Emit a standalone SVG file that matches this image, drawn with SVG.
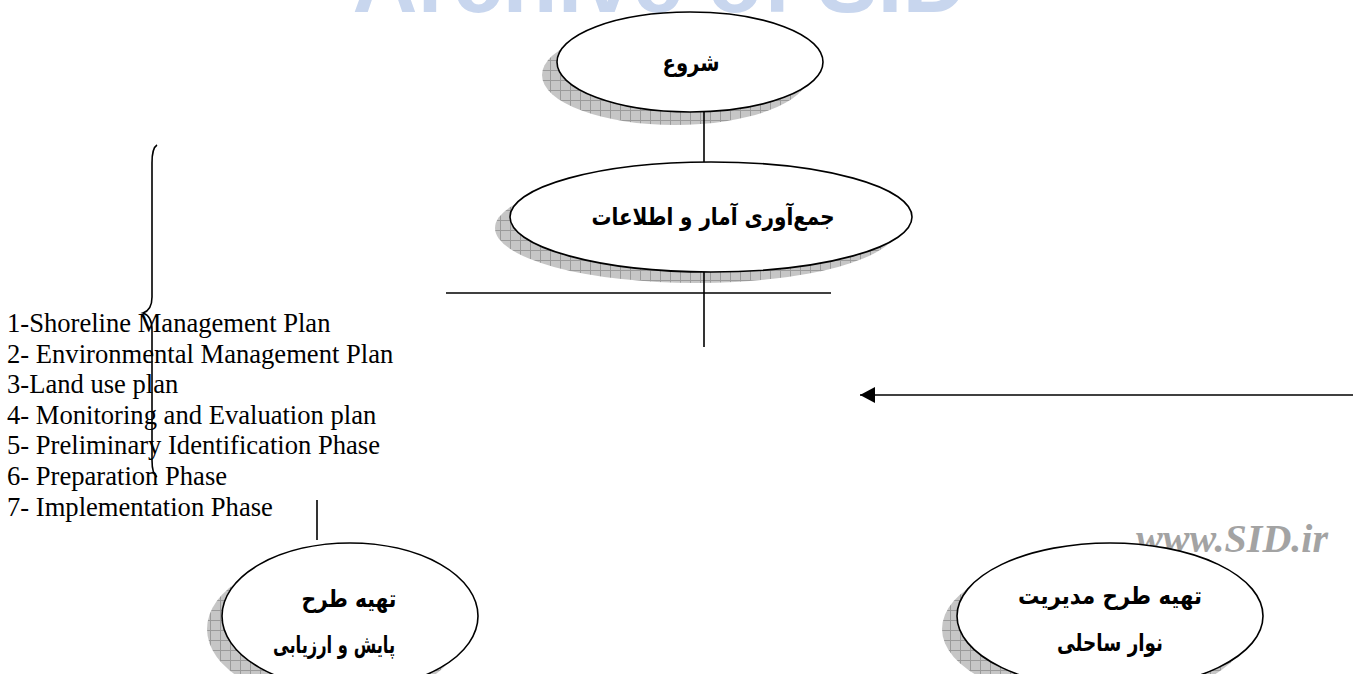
<svg xmlns="http://www.w3.org/2000/svg" width="1353" height="674" viewBox="0 0 1353 674">
<defs>
<pattern id="hatch" width="10" height="10" patternUnits="userSpaceOnUse">
<rect width="10" height="10" fill="#c6c6c6"/>
<path d="M0,0.5 H10 M0.5,0 V10" stroke="#9a9a9a" stroke-width="1" fill="none"/>
</pattern>
<marker id="arrow" markerWidth="15" markerHeight="16" refX="15" refY="8" orient="auto" markerUnits="userSpaceOnUse">
<path d="M0,0 L15,8 L0,16 Z" fill="#000"/>
</marker>
<style>
.shadow{fill:url(#hatch);stroke:none}
.node{fill:#fff;stroke:#000;stroke-width:1.6}
.fa{font-family:"DejaVu Sans",sans-serif;font-weight:bold;font-size:24px;fill:#000;text-anchor:middle}
.en{font-family:"Liberation Serif",serif;font-size:26.6px;fill:#000}
.ln{stroke:#000;stroke-width:1.6;fill:none}
</style>
</defs>
<rect width="1353" height="674" fill="#fff"/>
<text x="660" y="12" font-family="Liberation Sans, sans-serif" font-weight="bold" font-size="90" fill="#c8d6ee" text-anchor="middle">Archive of SID</text>
<text x="1328" y="552" font-family="Liberation Serif, serif" font-weight="bold" font-style="italic" font-size="40" fill="#a3a3a3" text-anchor="end">www.SID.ir</text>

<g id="node-start">
<ellipse class="shadow" cx="675" cy="75" rx="133" ry="50"/>
<ellipse class="node" cx="690" cy="62" rx="133" ry="50"/>
<text class="fa" x="691" y="71" textLength="57" lengthAdjust="spacingAndGlyphs">شروع</text>
</g>
<g id="node-collect">
<ellipse class="shadow" cx="696" cy="228" rx="201" ry="55"/>
<ellipse class="node" cx="711" cy="217" rx="201" ry="55"/>
<text class="fa" x="713" y="225" textLength="243" lengthAdjust="spacingAndGlyphs">جمع‌آوری آمار و اطلاعات</text>
</g>
<g id="node-monitor">
<ellipse class="shadow" cx="335" cy="629" rx="128" ry="73"/>
<ellipse class="node" cx="350" cy="616" rx="128" ry="73"/>
<text class="fa" x="349" y="607" textLength="95" lengthAdjust="spacingAndGlyphs">تهیه طرح</text>
<text class="fa" x="334" y="653" textLength="122" lengthAdjust="spacingAndGlyphs">پایش و ارزیابی</text>
</g>
<g id="node-shoreline">
<ellipse class="shadow" cx="1095" cy="629" rx="153" ry="73"/>
<ellipse class="node" cx="1110" cy="616" rx="153" ry="73"/>
<text class="fa" x="1110" y="604" textLength="184" lengthAdjust="spacingAndGlyphs">تهیه طرح مدیریت</text>
<text class="fa" x="1110" y="651" textLength="106" lengthAdjust="spacingAndGlyphs">نوار ساحلی</text>
</g>
<g id="list">
<text class="en" x="7" y="332">1-Shoreline Management Plan</text>
<text class="en" x="7" y="362.6">2- Environmental Management Plan</text>
<text class="en" x="7" y="393.2">3-Land use plan</text>
<text class="en" x="7" y="423.8">4- Monitoring and Evaluation plan</text>
<text class="en" x="7" y="454.4">5- Preliminary Identification Phase</text>
<text class="en" x="7" y="485">6- Preparation Phase</text>
<text class="en" x="7" y="515.6">7- Implementation Phase</text>
<path class="ln" d="M157,145 Q152,148 152,163 L152,297 Q152,310 143,313 Q152,316 152,330 L152,460 Q152,474 157,477"/>
</g>
<g id="connectors">
<line class="ln" x1="704" y1="112" x2="704" y2="162"/>
<line class="ln" x1="446" y1="293" x2="831" y2="293"/>
<line class="ln" x1="704" y1="272" x2="704" y2="347"/>
<line class="ln" x1="1353" y1="395" x2="860" y2="395" marker-end="url(#arrow)"/>
<line class="ln" x1="317" y1="500" x2="317" y2="540"/>
</g>
</svg>
